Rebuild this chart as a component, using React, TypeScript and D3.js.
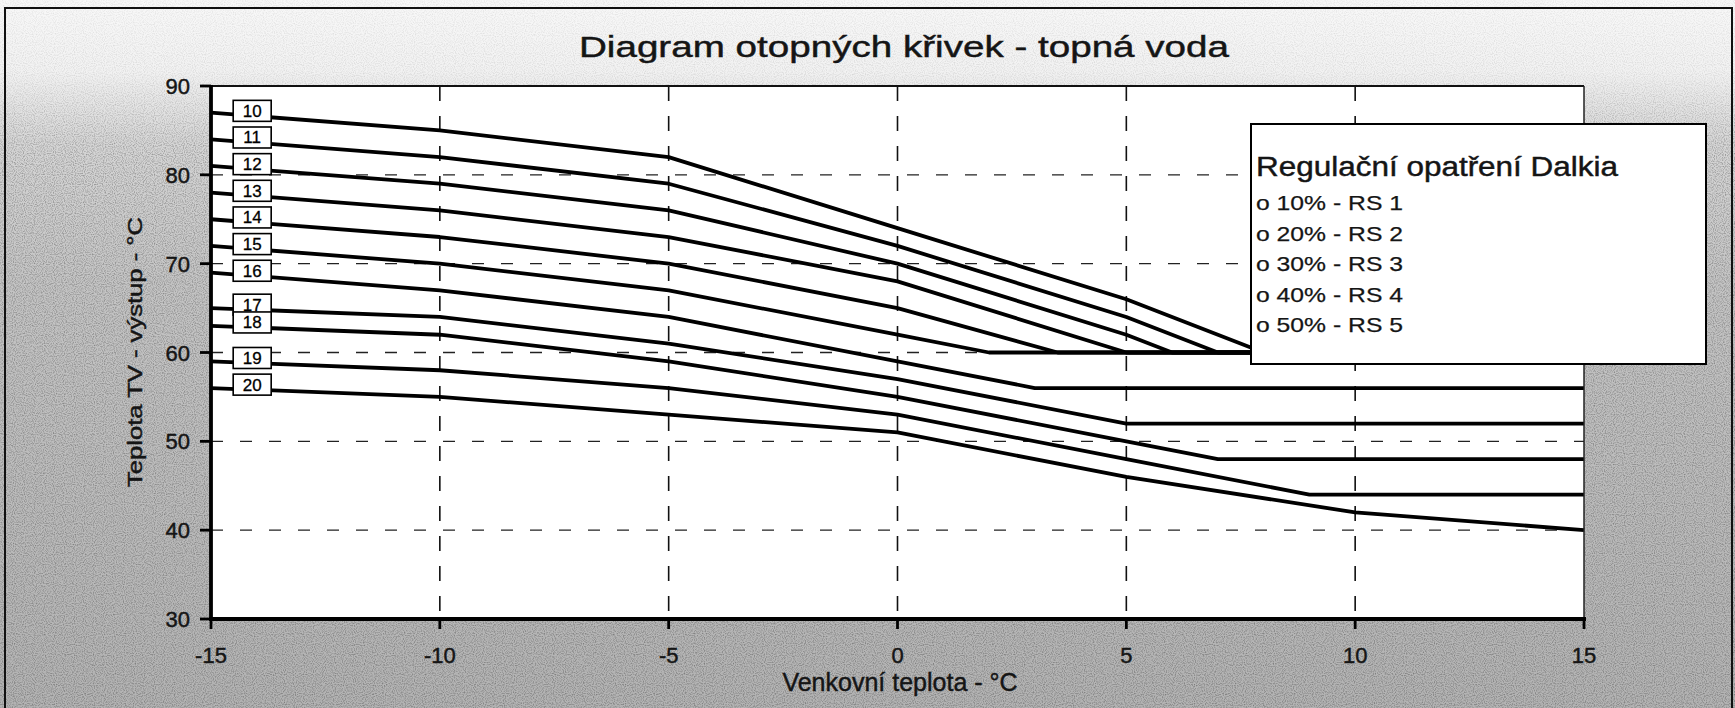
import React from 'react';
import * as d3 from 'd3';

const W = 1735;
const H = 708;

const xTicks = [-15, -10, -5, 0, 5, 10, 15];
const yTicks = [30, 40, 50, 60, 70, 80, 90];
const xGrid = [-10, -5, 0, 5, 10];
const yGrid = [40, 50, 60, 70, 80];

const curveNames = ['10', '11', '12', '13', '14', '15', '16', '17', '18', '19', '20'];
const curve10: [number, number][] = [[-15, 87], [-10, 85], [-5, 82], [0, 74], [5, 66], [8, 60], [15, 60]];
const curve11: [number, number][] = [[-15, 84], [-10, 82], [-5, 79], [0, 72], [5, 64], [7, 60], [15, 60]];
const curve12: [number, number][] = [[-15, 81], [-10, 79], [-5, 76], [0, 70], [5, 62], [6, 60], [15, 60]];
const curve13: [number, number][] = [[-15, 78], [-10, 76], [-5, 73], [0, 68], [5, 60], [15, 60]];
const curve14: [number, number][] = [[-15, 75], [-10, 73], [-5, 70], [0, 65], [3.5, 60], [15, 60]];
const curve15: [number, number][] = [[-15, 72], [-10, 70], [-5, 67], [0, 62], [2, 60], [15, 60]];
const curve16: [number, number][] = [[-15, 69], [-10, 67], [-5, 64], [0, 59], [3, 56], [15, 56]];
const curve17: [number, number][] = [[-15, 65], [-10, 64], [-5, 61], [0, 57], [5, 52], [15, 52]];
const curve18: [number, number][] = [[-15, 63], [-10, 62], [-5, 59], [0, 55], [5, 50], [7, 48], [15, 48]];
const curve19: [number, number][] = [[-15, 59], [-10, 58], [-5, 56], [0, 53], [5, 48], [9, 44], [15, 44]];
const curve20: [number, number][] = [[-15, 56], [-10, 55], [-5, 53], [0, 51], [5, 46], [10, 42], [15, 40]];
const curves = [curve10, curve11, curve12, curve13, curve14, curve15, curve16, curve17, curve18, curve19, curve20];

const chartTitle = 'Diagram otopných křivek - topná voda';
const xTitle = 'Venkovní teplota - °C';
const yTitle = 'Teplota TV - výstup - °C';
const legendTitle = 'Regulační opatření Dalkia';
const legendItems = ['o 10% - RS 1', 'o 20% - RS 2', 'o 30% - RS 3', 'o 40% - RS 4', 'o 50% - RS 5'];

const FONT = 'Arial, "Liberation Sans", Helvetica, sans-serif';
const INK = '#151515';

function valueAt(pts: [number, number][], t: number) {
  for (let i = 0; i < pts.length - 1; i++) {
    const [x0, y0] = pts[i];
    const [x1, y1] = pts[i + 1];
    if (t >= x0 && t <= x1) return y0 + ((y1 - y0) * (t - x0)) / (x1 - x0);
  }
  return pts[pts.length - 1][1];
}

export default function App() {
  const x = d3.scaleLinear().domain([-15, 15]).range([211, 1584]);
  const y = d3.scaleLinear().domain([30, 90]).range([619, 86]);
  const line = d3
    .line<[number, number]>()
    .x((d) => x(d[0]))
    .y((d) => y(d[1]));

  const labelT = -14.1;
  const boxW = 38;
  const boxH = 21;
  const textInk = { fill: INK, stroke: INK, strokeWidth: 0.45 };

  return (
    <svg
      width={W}
      height={H}
      viewBox={`0 0 ${W} ${H}`}
      style={{ position: 'absolute', left: 0, top: 0, display: 'block' }}
      fontFamily={FONT}
    >
      <defs>
        <linearGradient id="bg" x1="0" y1="0" x2="0" y2="1">
          <stop offset="0%" stopColor="#f8f8f8" />
          <stop offset="10%" stopColor="#f2f2f2" />
          <stop offset="20%" stopColor="#d6d6d6" />
          <stop offset="40%" stopColor="#c4c4c4" />
          <stop offset="100%" stopColor="#b3b3b3" />
        </linearGradient>
        <linearGradient id="grainFade" x1="0" y1="0" x2="0" y2="1">
          <stop offset="0%" stopColor="#fff" stopOpacity={0.25} />
          <stop offset="11%" stopColor="#fff" stopOpacity={0.35} />
          <stop offset="22%" stopColor="#fff" stopOpacity={1} />
          <stop offset="100%" stopColor="#fff" stopOpacity={1} />
        </linearGradient>
        <mask id="grainMask">
          <rect x={0} y={0} width={W} height={H} fill="url(#grainFade)" />
        </mask>
        <filter id="grain" x="0" y="0" width="100%" height="100%">
          <feTurbulence type="fractalNoise" baseFrequency="0.9" numOctaves="1" seed="3" result="n" />
          <feColorMatrix
            in="n"
            type="matrix"
            values="0 0 0 0 0  0 0 0 0 0  0 0 0 0 0  0 0 0 -2.4 1.4"
          />
        </filter>
      </defs>

      {/* scanned page background */}
      <rect x={0} y={0} width={W} height={H} fill="url(#bg)" />
      <g mask="url(#grainMask)">
        <rect x={0} y={0} width={W} height={H} filter="url(#grain)" opacity={0.3} />
      </g>
      <rect x={5} y={8} width={1727} height={720} fill="none" stroke="#111" strokeWidth={2} />

      {/* title */}
      <text x={904} y={57} fontSize={30} textAnchor="middle" {...textInk} textLength={650} lengthAdjust="spacingAndGlyphs">
        {chartTitle}
      </text>

      {/* plot area */}
      <rect x={x(-15)} y={y(90)} width={x(15) - x(-15)} height={y(30) - y(90)} fill="#ffffff" />

      {/* gridlines */}
      {yGrid.map((v) => (
        <line key={'hy' + v} x1={x(-15)} x2={x(15)} y1={y(v)} y2={y(v)} stroke="#222" strokeWidth={1.3} strokeDasharray="12 17" />
      ))}
      {xGrid.map((v) => (
        <line key={'gx' + v} x1={x(v)} x2={x(v)} y1={y(90)} y2={y(30)} stroke="#111" strokeWidth={1.6} strokeDasharray="15 15" />
      ))}

      {/* curves */}
      {curves.map((c, i) => (
        <path key={'c' + i} d={line(c) || ''} fill="none" stroke="#000" strokeWidth={3.8} strokeLinejoin="round" />
      ))}

      {/* plot frame */}
      <line x1={x(-15)} x2={x(15)} y1={y(90)} y2={y(90)} stroke="#111" strokeWidth={2} />
      <line x1={x(15)} x2={x(15)} y1={y(90)} y2={y(30)} stroke="#222" strokeWidth={1.5} />
      <line x1={x(-15)} x2={x(-15)} y1={y(90) - 1} y2={y(30) + 2} stroke="#000" strokeWidth={3.8} />
      <line x1={x(-15) - 2} x2={x(15) + 2} y1={y(30)} y2={y(30)} stroke="#000" strokeWidth={3.8} />

      {/* y ticks */}
      {yTicks.map((v) => (
        <g key={'yt' + v}>
          <line x1={x(-15) - 11} x2={x(-15)} y1={y(v)} y2={y(v)} stroke="#000" strokeWidth={2.8} />
          <text x={190} y={y(v) + 8} fontSize={22} textAnchor="end" {...textInk}>
            {v}
          </text>
        </g>
      ))}

      {/* x ticks */}
      {xTicks.map((v) => (
        <g key={'xt' + v}>
          <line x1={x(v)} x2={x(v)} y1={y(30)} y2={y(30) + 10} stroke="#000" strokeWidth={2.8} />
          <text x={x(v)} y={663} fontSize={22} textAnchor="middle" {...textInk}>
            {v}
          </text>
        </g>
      ))}

      {/* axis titles */}
      <text x={900} y={691} fontSize={25} textAnchor="middle" {...textInk}>
        {xTitle}
      </text>
      <text
        transform="translate(142,352) rotate(-90)"
        fontSize={20}
        textAnchor="middle"
        {...textInk}
        textLength={270}
        lengthAdjust="spacingAndGlyphs"
      >
        {yTitle}
      </text>

      {/* curve labels */}
      {curves.map((c, i) => {
        const cy = y(valueAt(c, labelT)) - 5;
        const cx = x(labelT);
        return (
          <g key={'lb' + i}>
            <rect x={cx - boxW / 2} y={cy - boxH / 2} width={boxW} height={boxH} fill="#fff" stroke="#000" strokeWidth={1.6} />
            <text x={cx} y={cy + 6} fontSize={17} textAnchor="middle" fill="#000" stroke="#000" strokeWidth={0.3}>
              {curveNames[i]}
            </text>
          </g>
        );
      })}

      {/* legend box */}
      <rect x={1251} y={124} width={455} height={240} fill="#fff" stroke="#000" strokeWidth={2} />
      <text x={1256} y={176} fontSize={27} {...textInk} textLength={362} lengthAdjust="spacingAndGlyphs">
        {legendTitle}
      </text>
      {legendItems.map((t, i) => (
        <text key={'li' + i} x={1256} y={210 + i * 30.6} fontSize={21} {...textInk} strokeWidth={0.25} textLength={147} lengthAdjust="spacingAndGlyphs">
          {t}
        </text>
      ))}
    </svg>
  );
}
